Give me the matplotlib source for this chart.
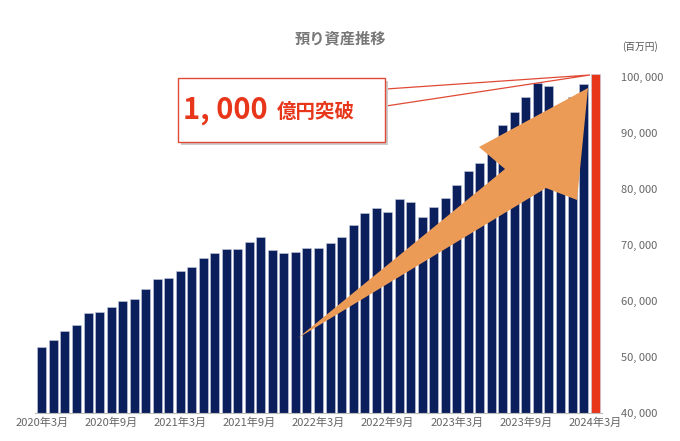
import matplotlib.pyplot as plt
from matplotlib.patches import Polygon, Rectangle
from matplotlib.ticker import FuncFormatter

plt.rcParams["font.family"] = "Noto Sans CJK JP"

# 預り資産 (百万円), monthly 2020年3月 - 2024年3月
values = [51800, 53000, 54600, 55700, 57900, 58000, 58900, 60000, 60300, 62100,
          63900, 64100, 65400, 66100, 67700, 68600, 69300, 69300, 70500, 71400,
          69100, 68600, 68800, 69500, 69500, 70400, 71400, 73600, 75700, 76600,
          75900, 78200, 77700, 75000, 76800, 78400, 80700, 83200, 84600, 87700,
          91400, 93800, 96400, 98900, 98400, 95000, 96400, 98800, 100500]
tick_labels = ["2020年3月", "2020年9月", "2021年3月", "2021年9月", "2022年3月",
               "2022年9月", "2023年3月", "2023年9月", "2024年3月"]
y_ticks = [40000, 50000, 60000, 70000, 80000, 90000, 100000]

W, H = 680, 441
fig = plt.figure(figsize=(W / 100, H / 100), dpi=100)
ax = fig.add_axes([35 / W, 1 - 413 / H, (602 - 35) / W, (413 - 66) / H])

n = len(values)
colors = ["#0b1f5c"] * (n - 1) + ["#e8361b"]
ax.bar(range(n), values, width=0.78, color=colors, edgecolor="#c8cde0", linewidth=0.4)
ax.set_ylim(40000, 102000)
ax.set_xlim(-0.6, n - 0.4)

ax.yaxis.tick_right()
ax.set_yticks(y_ticks)
ax.yaxis.set_major_formatter(FuncFormatter(lambda v, p: f"{int(v):,}".replace(",", ", ")))
ax.set_xticks(range(0, n, 6))
ax.set_xticklabels(tick_labels)
ax.tick_params(length=0, labelsize=8, colors="#666666")
ax.tick_params(axis="y", pad=14)
for s in ["top", "left", "right"]:
    ax.spines[s].set_visible(False)
ax.spines["bottom"].set_color("#bbbbbb")

fig.text(340 / W, 1 - 38 / H, "預り資産推移", ha="center", va="center",
         fontsize=11, fontweight="bold", color="#777777")
fig.text(640 / W, 1 - 47 / H, "(百万円)", ha="center", va="center",
         fontsize=7, color="#555555")

def px(pts):
    return [(x / W, 1 - y / H) for x, y in pts]

# big orange arrow
arrow = Polygon(px([(298, 338), (505, 169), (479, 147), (588, 88), (577, 200),
                    (546, 188), (298, 338)]),
                closed=True, transform=fig.transFigure, facecolor="#eb9b55",
                edgecolor="none", zorder=5)
fig.add_artist(arrow)

# callout
pointer = Polygon(px([(386, 89), (590, 75), (386, 106)]), closed=True,
                  transform=fig.transFigure, facecolor="white", edgecolor="#e04a35",
                  linewidth=0.9, zorder=6)
fig.add_artist(pointer)
shadow = Rectangle((181 / W, 1 - 145 / H), 207 / W, 64 / H, transform=fig.transFigure,
                   facecolor="#cccccc", edgecolor="none", zorder=6)
fig.add_artist(shadow)
box = Rectangle((178 / W, 1 - 142 / H), 207 / W, 64 / H, transform=fig.transFigure,
                facecolor="white", edgecolor="#e04a35", linewidth=1.0, zorder=7)
fig.add_artist(box)
fig.text(268 / W, 1 - 110 / H, "1, 000", ha="right", va="center", fontsize=21,
         color="#e8361b", fontweight="bold", zorder=8)
fig.text(277 / W, 1 - 112 / H, "億円突破", ha="left", va="center", fontsize=14,
         color="#e8361b", fontweight="bold", zorder=8)

fig.savefig("out.png", dpi=100)
